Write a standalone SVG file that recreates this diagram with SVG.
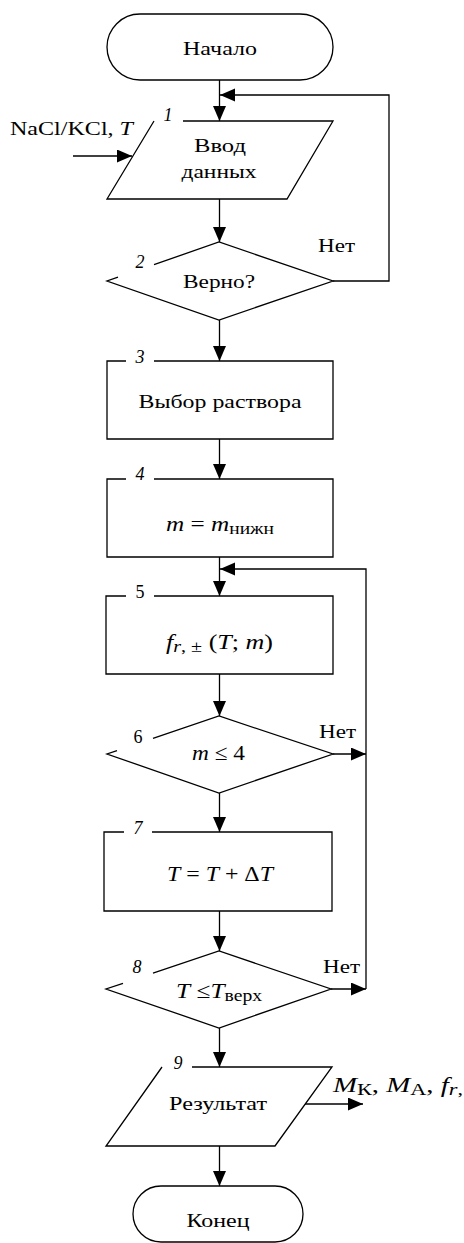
<svg xmlns="http://www.w3.org/2000/svg" width="464" height="1243" viewBox="0 0 464 1243">
<defs>
<marker id="arr" markerUnits="userSpaceOnUse" markerWidth="16" markerHeight="14" refX="15" refY="6.5" orient="auto"><path d="M0,0 L15,6.5 L0,13 Z" fill="#000"/></marker>
</defs>
<style>
.s{fill:#fff;stroke:#000;stroke-width:1.3}
.o{fill:none;stroke:#000;stroke-width:1.3}
.e{fill:none;stroke:#000;stroke-width:1.3;marker-end:url(#arr)}
text{font-family:"Liberation Serif","Times New Roman",serif;font-size:18px;fill:#000}
.c{text-anchor:middle}
.i{font-style:italic}
.m{font-size:22px}
.sub{font-size:17px}
</style>
<rect width="464" height="1243" fill="#fff"/>
<g id="connectors">
<path class="e" d="M219.5,80 V121"/>
<path class="e" d="M333,281 H389 V95 H220"/>
<path class="e" d="M132,156 H73" transform="rotate(180 102.5 156)"/>
<path class="e" d="M219.5,199 V242"/>
<path class="e" d="M219.5,320 V361"/>
<path class="e" d="M219.5,439 V479"/>
<path class="e" d="M219.5,557 V596"/>
<path class="e" d="M366,989 V569 H220"/>
<path class="e" d="M219.5,674 V716"/>
<path class="e" d="M333,754 H366"/>
<path class="e" d="M219.5,793 V832"/>
<path class="e" d="M219.5,911 V951"/>
<path class="e" d="M331,989 H366"/>
<path class="e" d="M219.5,1028 V1067"/>
<path class="e" d="M305,1104 H363"/>
<path class="e" d="M219.5,1146 V1186"/>
</g>
<g id="start">
<rect class="s" x="107" y="14" width="226" height="66" rx="33"/>
<text class="c" x="220" y="55" textLength="74" lengthAdjust="spacingAndGlyphs">Начало</text>
</g>
<g id="n1">
<path class="s" d="M183,121 L333,121 L287,199 L107,199 L154,121"/>
<text class="c i" x="168" y="121">1</text>
<text class="c" x="220" y="152" textLength="52" lengthAdjust="spacingAndGlyphs">Ввод</text>
<text class="c" x="219" y="178" textLength="75" lengthAdjust="spacingAndGlyphs">данных</text>
<text x="10" y="135" textLength="123" lengthAdjust="spacingAndGlyphs">NaCl/KCl, <tspan class="i">T</tspan></text>
</g>
<g id="n2">
<path class="s" d="M154,264.6 L219,242 L333,281 L219,320 L107,281 L118,277.2"/>
<text class="c i" x="140" y="268">2</text>
<text class="c" x="219" y="288" textLength="72" lengthAdjust="spacingAndGlyphs">Верно?</text>
<text x="318" y="252" textLength="37" lengthAdjust="spacingAndGlyphs">Нет</text>
</g>
<g id="n3">
<path class="s" d="M154,361 H333 V439 H107 V361 H126"/>
<text class="c i" x="140" y="363">3</text>
<text class="c" x="220" y="408" textLength="163" lengthAdjust="spacingAndGlyphs">Выбор раствора</text>
</g>
<g id="n4">
<path class="s" d="M154,479 H333 V557 H107 V479 H126"/>
<text class="c i" x="140" y="480">4</text>
<text class="m" x="166" y="531" textLength="108" lengthAdjust="spacingAndGlyphs"><tspan class="i">m</tspan> = <tspan class="i">m</tspan><tspan class="sub" dy="3">нижн</tspan></text>
</g>
<g id="n5">
<path class="s" d="M154,596 H333 V674 H106 V596 H126"/>
<text class="c" x="140" y="598">5</text>
<text class="m" x="166" y="649" textLength="107" lengthAdjust="spacingAndGlyphs"><tspan class="i">f</tspan><tspan class="sub i" dy="3">r</tspan><tspan class="sub">, ±</tspan><tspan dy="-3"> (</tspan><tspan class="i">T</tspan>; <tspan class="i">m</tspan>)</text>
</g>
<g id="n6">
<path class="s" d="M153,738.4 L219,716 L333,754 L219,793 L107,754 L117,750.6"/>
<text class="c" x="138" y="743">6</text>
<text class="m" x="192" y="760" textLength="53" lengthAdjust="spacingAndGlyphs"><tspan class="i">m</tspan> ≤ 4</text>
<text x="319" y="738" textLength="37" lengthAdjust="spacingAndGlyphs">Нет</text>
</g>
<g id="n7">
<path class="s" d="M152,832 H332 V911 H104 V832 H124"/>
<text class="c i" x="138" y="834">7</text>
<text class="m" x="167" y="881" textLength="106" lengthAdjust="spacingAndGlyphs"><tspan class="i">T</tspan> = <tspan class="i">T</tspan> + Δ<tspan class="i">T</tspan></text>
</g>
<g id="n8">
<path class="s" d="M153,973.2 L219,951 L331,989 L219,1028 L106,989 L123,983.3"/>
<text class="c i" x="137" y="973">8</text>
<text class="m" x="176" y="998" textLength="86" lengthAdjust="spacingAndGlyphs"><tspan class="i">T</tspan> ≤<tspan class="i">T</tspan><tspan class="sub" dy="3">верх</tspan></text>
<text x="323" y="973" textLength="37" lengthAdjust="spacingAndGlyphs">Нет</text>
</g>
<g id="n9">
<path class="s" d="M192,1067 L332,1067 L275,1146 L106,1146 L162,1067"/>
<text class="c i" x="178" y="1069">9</text>
<text class="c" x="218" y="1110" textLength="98" lengthAdjust="spacingAndGlyphs">Результат</text>
<text class="m" x="333" y="1092" textLength="130" lengthAdjust="spacingAndGlyphs"><tspan class="i">M</tspan><tspan class="sub" dy="3">К</tspan><tspan dy="-3">,  </tspan><tspan class="i">M</tspan><tspan class="sub" dy="3">А</tspan><tspan dy="-3">,  </tspan><tspan class="i">f</tspan><tspan class="sub i" dy="3">r</tspan><tspan class="sub">,</tspan></text>
</g>
<g id="end">
<rect class="s" x="133" y="1186" width="170" height="56" rx="28"/>
<text class="c" x="218" y="1227" textLength="63" lengthAdjust="spacingAndGlyphs">Конец</text>
</g>
</svg>
